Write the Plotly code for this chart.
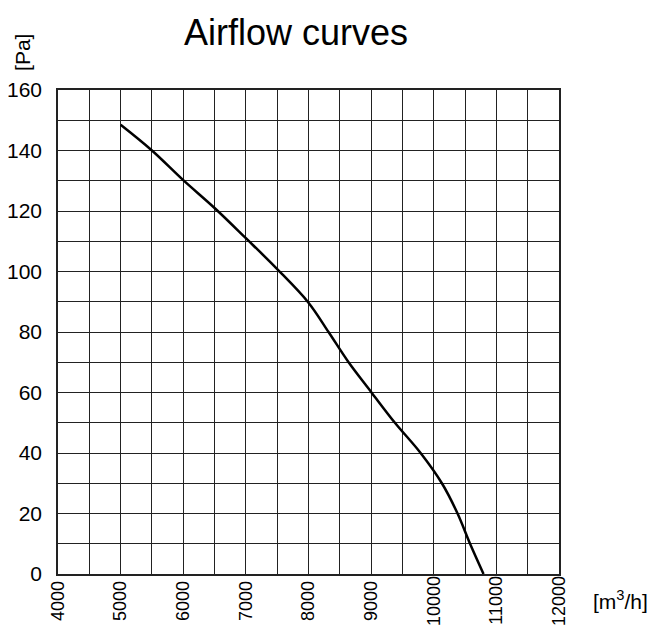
import plotly.graph_objects as go

# Data
airflow = [5000, 5500, 6000, 6500, 7000, 7500, 8000, 8320, 8640, 9000, 9380, 9790, 10130, 10380, 10580, 10795]
pressure = [148.5, 140, 130.2, 121, 111, 100.8, 89.7, 80, 70, 60.2, 50, 40, 30, 20, 10, 0]
x_ticks = [4000, 5000, 6000, 7000, 8000, 9000, 10000, 11000, 12000]
x_tick_labels = ["4000", "5000", "6000", "7000", "8000", "9000", "10000", "11000", "12000"]
y_ticks = [0, 20, 40, 60, 80, 100, 120, 140, 160]

FONT = "Liberation Sans, Arial, sans-serif"

fig = go.Figure()
fig.add_trace(go.Scatter(x=airflow, y=pressure, mode="lines",
                         line=dict(color="black", width=2.5, shape="spline", smoothing=1.0),
                         showlegend=False, hoverinfo="skip"))

# pad shorter labels so that all labels start at the same distance from the bottom
padded = [t + "\u00a0" * (5 - len(t)) for t in x_tick_labels]

grid_col = "#222222"
fig.update_xaxes(range=[4000, 12000], tickvals=x_ticks, ticktext=padded,
                 tickangle=-90, showgrid=True, gridcolor=grid_col, gridwidth=1.3,
                 minor=dict(dtick=500, tick0=4000, showgrid=True, gridcolor=grid_col, gridwidth=1.3),
                 showline=True, linecolor=grid_col, linewidth=1.5, mirror=True,
                 ticks="", ticklabelstandoff=-7,
                 zeroline=False, tickfont=dict(family=FONT, size=18, color="black"))
fig.update_yaxes(range=[0, 160], tickvals=y_ticks, showgrid=True, gridcolor=grid_col, gridwidth=1.3,
                 minor=dict(dtick=10, tick0=0, showgrid=True, gridcolor=grid_col, gridwidth=1.3),
                 showline=True, linecolor=grid_col, linewidth=1.5, mirror=True,
                 ticks="outside", ticklen=10, tickcolor="rgba(0,0,0,0)",
                 zeroline=False, tickfont=dict(family=FONT, size=21, color="black"))

fig.add_annotation(text="Airflow curves", xref="paper", yref="paper", x=0.475, y=1.118,
                   xanchor="center", yanchor="middle", showarrow=False,
                   font=dict(family=FONT, size=36, color="black"))
fig.add_annotation(text="[Pa]", xref="paper", yref="paper", x=-0.072, y=1.0785,
                   xanchor="center", yanchor="middle", showarrow=False, textangle=-90,
                   font=dict(family=FONT, size=21, color="black"))
fig.add_annotation(text="[m<sup>3</sup>/h]", xref="paper", yref="paper", x=1.122, y=-0.054,
                   xanchor="center", yanchor="middle", showarrow=False,
                   font=dict(family=FONT, size=21, color="black"))

fig.update_layout(width=652, height=622, margin=dict(l=50, r=101, t=82, b=56, autoexpand=False),
                  plot_bgcolor="white", paper_bgcolor="white")

fig.write_html("out.html")
